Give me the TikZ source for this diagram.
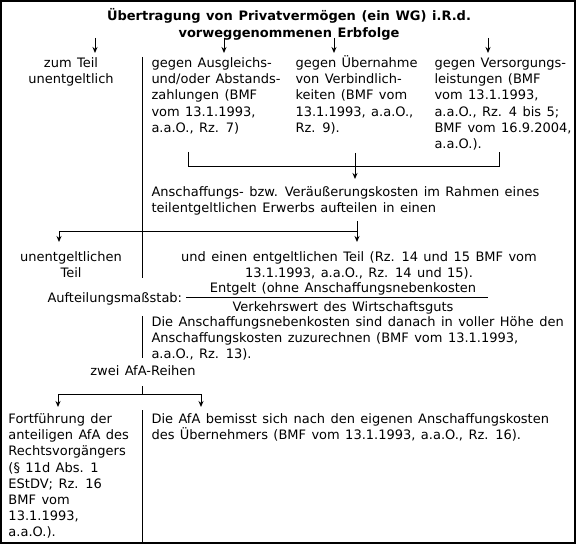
\documentclass[tikz,border=0pt]{standalone}
\usepackage{fontspec}
\setmainfont{DejaVu Sans}
\usetikzlibrary{arrows.meta}

\newcommand\zs{\rule{0pt}{14pt}}
\newcommand\weit{\spaceskip=5.4pt\relax}
\newcommand\weiter{\spaceskip=5.6pt\relax}

\tikzset{
  txt/.style={font=\fontsize{13}{16.2}\selectfont\weit, inner sep=0pt, align=left,
    anchor=north west, yshift=14pt},
  ctxt/.style={txt, align=center, anchor=north},
  arr/.style={-{Stealth[length=6pt,width=5pt]}},
}

\begin{document}
\begin{tikzpicture}[x=1pt,y=-1pt,line width=1pt]
        \useasboundingbox (0,0) rectangle (577,545);
        % Rahmen
        \draw [line width=1.6pt] (1,1) rectangle (575,543);

        % Titel
        \node [ctxt, font=\fontsize{13}{17}\selectfont\bfseries\weiter] (titel) at (289,20)
            {\zs Übertragung von Privatvermögen (ein WG) i.R.d.\\vorweggenommenen Erbfolge};

        % vier Fälle (oben)
        \node [ctxt] (teil) at (71,67) {\zs zum Teil\\unentgeltlich};
        \node [txt] (ausgl) at (151,67) {\zs gegen Ausgleichs-\\und/oder Abstands-\\zahlungen (BMF\\vom 13.1.1993,\\a.a.O., Rz. 7)};
        \node [txt] (uebern) at (295,67) {\zs gegen Übernahme\\von Verbindlich-\\keiten (BMF vom\\13.1.1993, a.a.O.,\\Rz. 9).};
        \node [txt] (versorg) at (434,67) {\zs gegen Versorgungs-\\leistungen (BMF\\vom 13.1.1993,\\a.a.O., Rz. 4 bis 5;\\BMF vom 16.9.2004,\\a.a.O.).};
        \foreach \x in {95,224,334,488}
            \draw [arr] (\x,38) -- (\x,53);
        \draw (142,57) -- (142,278);

        % Klammer und Aufteilung
        \coordinate (kl) at (188,152);
        \coordinate (kr) at (499,152);
        \coordinate (km) at (355,153);
        \draw (kl) -- ++(0,15) -| (kr);
        \node [txt] (anschaff) at (151,196) {\zs Anschaffungs- bzw. Veräußerungskosten im Rahmen eines\\teilentgeltlichen Erwerbs aufteilen in einen};
        \draw [arr] (km) -- (km |- 0,179);

        % unentgeltlicher / entgeltlicher Teil
        \node [ctxt] (unentg) at (71,261) {\zs unentgeltlichen\\Teil};
        \node [ctxt] (entg) at (359,261) {\zs und einen entgeltlichen Teil (Rz. 14 und 15 BMF vom\\13.1.1993, a.a.O., Rz. 14 und 15).};
        \coordinate (ast) at (357,221);
        \draw [arr] (ast) -- (357,242);
        \draw [arr] (357,231) -| (59,242);

        % Aufteilungsmassstab
        \node [txt] (massst) at (47,302) {\zs Aufteilungsmaßstab:};
        \node [ctxt] (zaehler) at (343,292) {\zs Entgelt (ohne Anschaffungsnebenkosten};
        \node [ctxt] (nenner) at (343,311) {\zs Verkehrswert des Wirtschaftsguts};
        \draw (186,297) -- (488,297);

        \node [txt] (nebenk) at (151,326) {\zs Die Anschaffungsnebenkosten sind danach in voller Höhe den\\Anschaffungskosten zuzurechnen (BMF vom 13.1.1993,\\a.a.O., Rz. 13).};
        \draw (142,316) -- (142,358);

        % zwei AfA-Reihen
        \node [ctxt] (zwei) at (143,375) {\zs zwei AfA-Reihen};
        \draw (142,386) -- (142,394);
        \draw [arr] (142,394) -| (58,407);
        \draw [arr] (142,394) -| (201,407);

        \node [txt] (fortf) at (8,423) {\zs Fortführung der\\anteiligen AfA des\\Rechtsvorgängers\\(§ 11d Abs. 1\\EStDV; Rz. 16\\BMF vom\\13.1.1993,\\a.a.O.).};
        \node [txt] (eigen) at (151,423) {\zs Die AfA bemisst sich nach den eigenen Anschaffungskosten\\des Übernehmers (BMF vom 13.1.1993, a.a.O., Rz. 16).};
        \draw (142,410) -- (142,543);
\end{tikzpicture}
\end{document}
